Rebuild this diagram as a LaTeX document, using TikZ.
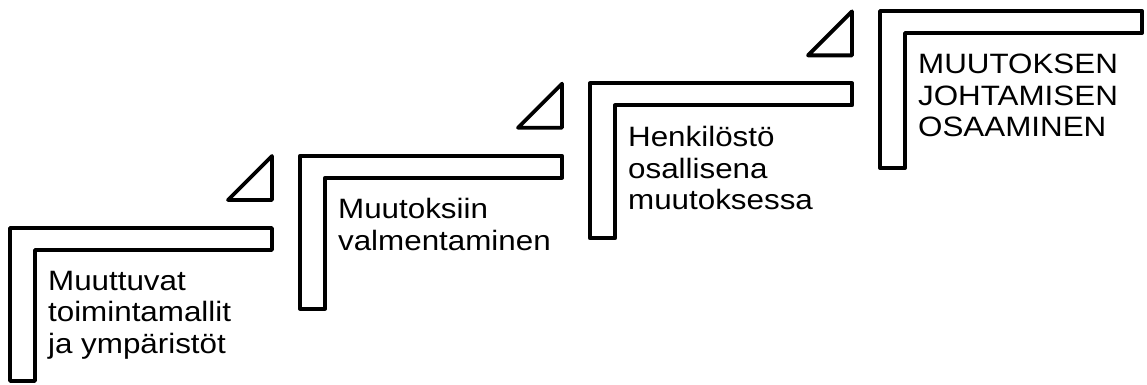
\documentclass[tikz,border=0pt]{standalone}
\usepackage{fontspec}
\setmainfont{Liberation Sans}

\begin{document}
\begin{tikzpicture}[x=1pt, y=1pt, line width=3.8pt, line join=round]
	\useasboundingbox (0,0) rectangle (1147,385);
	
	\foreach \i/\h/\teksti in {0/153/{Muuttuvat\\toimintamallit\\ja ympäristöt},
	                           1/153/{Muutoksiin\\valmentaminen},
	                           2/155/{Henkilöstö\\osallisena\\muutoksessa},
	                           3/157/{MUUTOKSEN\\JOHTAMISEN\\OSAAMINEN}} {
		\begin{scope}[shift={(10+290*\i, 157+72.3*\i)}]
			\draw (0,0) -- (262,0) -- (262,-22) -- (25,-22) -- (25,-\h) -- (0,-\h) -- cycle; % Porras
			\node [anchor=north west, inner sep=0, align=left, xscale=1.12, transform shape,
			       font=\fontsize{28}{31.7}\selectfont] (porras\i) at (36,-41) {\teksti};
		\end{scope}
	}
	
	\foreach \i in {0,1,2}
		\draw (228+290*\i, 185+72.3*\i) -- ++(44,0) -- ++(0,44) -- cycle; % Kolmiot portaiden välissä
\end{tikzpicture}
\end{document}
